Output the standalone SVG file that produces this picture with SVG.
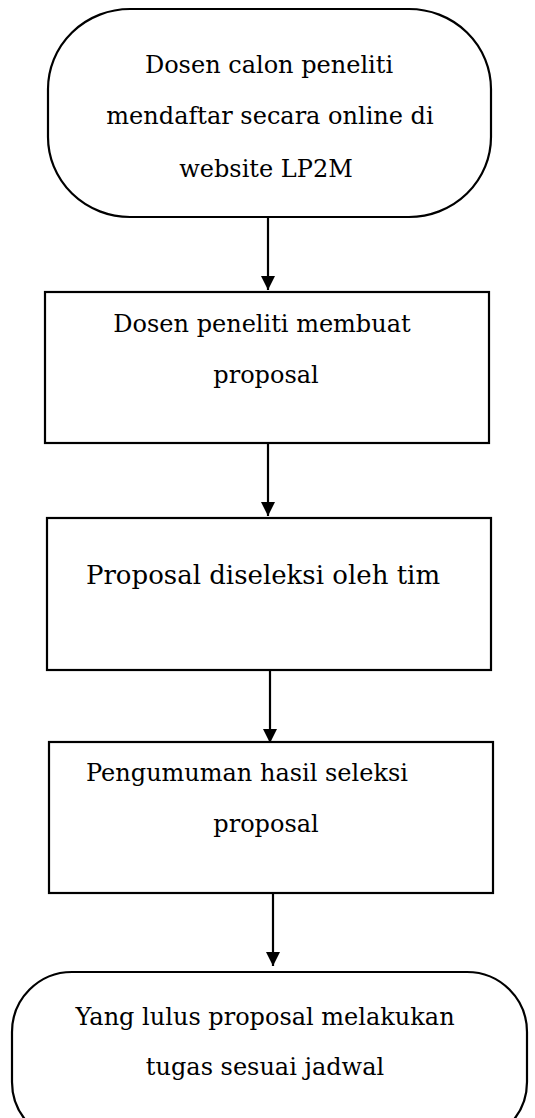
<svg xmlns="http://www.w3.org/2000/svg" width="535" height="1118" viewBox="0 0 535 1118">
<style>
.shape{fill:#fff;stroke:#000;stroke-width:2.2}
.t{font-family:"DejaVu Serif","Liberation Serif",serif;font-size:24px;fill:#000;text-anchor:middle}
.big{font-size:26px}
.conn{stroke:#000;stroke-width:2.2;fill:none}
</style>
<defs>
<marker id="arr" markerUnits="userSpaceOnUse" markerWidth="16" markerHeight="14" refX="14" refY="7" orient="auto">
<path d="M0,0 L14,7 L0,14 Z" fill="#000"/>
</marker>
</defs>
<rect width="535" height="1118" fill="#fff"/>
<g id="connectors">
<line class="conn" x1="268" y1="217" x2="268" y2="290" marker-end="url(#arr)"/>
<line class="conn" x1="268" y1="443" x2="268" y2="516" marker-end="url(#arr)"/>
<line class="conn" x1="270" y1="670" x2="270" y2="743" marker-end="url(#arr)"/>
<line class="conn" x1="273" y1="893" x2="273" y2="966" marker-end="url(#arr)"/>
</g>
<g id="start">
<rect class="shape" x="48" y="9" width="443" height="208" rx="82" ry="80"/>
<text class="t" x="269" y="73">Dosen calon peneliti</text>
<text class="t" x="270" y="124">mendaftar secara online di</text>
<text class="t" x="266" y="177">website LP2M</text>
</g>
<g id="step1">
<rect class="shape" x="45" y="292" width="444" height="151"/>
<text class="t" x="262" y="332">Dosen peneliti membuat</text>
<text class="t" x="266" y="383">proposal</text>
</g>
<g id="step2">
<rect class="shape" x="47" y="518" width="444" height="152"/>
<text class="t big" x="263" y="584">Proposal diseleksi oleh tim</text>
</g>
<g id="step3">
<rect class="shape" x="49" y="742" width="444" height="151"/>
<text class="t" x="247" y="781">Pengumuman hasil seleksi</text>
<text class="t" x="266" y="832">proposal</text>
</g>
<g id="end">
<rect class="shape" x="12" y="972" width="515" height="170" rx="60" ry="60"/>
<text class="t" x="265" y="1025">Yang lulus proposal melakukan</text>
<text class="t" x="265" y="1075">tugas sesuai jadwal</text>
</g>
</svg>
